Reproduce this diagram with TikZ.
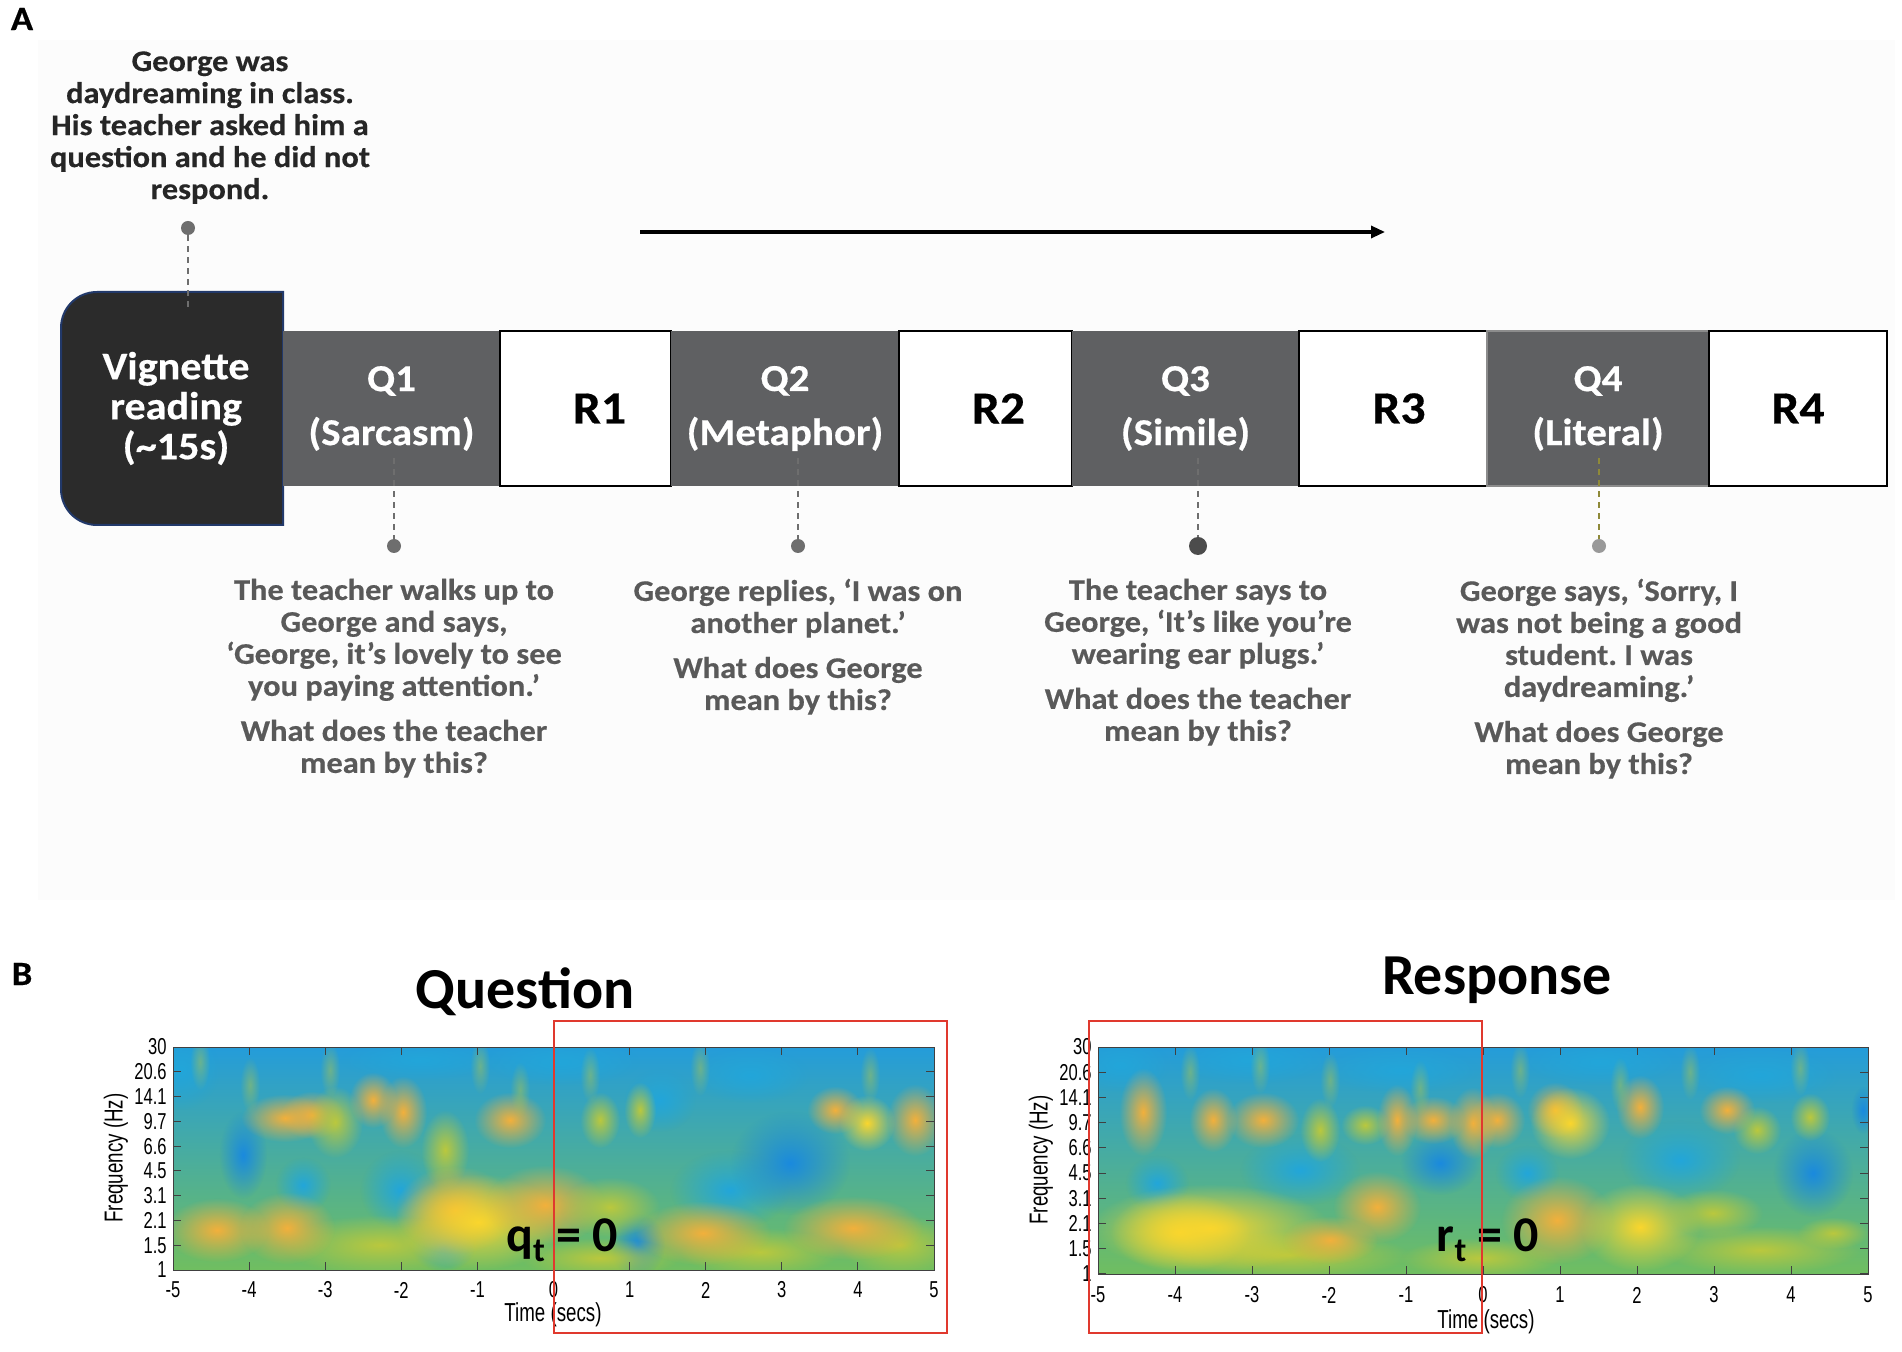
\documentclass[tikz,border=0pt]{standalone}
\usepackage{fontspec}
\setmainfont{Carlito}
\newfontfamily\afont[FakeStretch=1.08, BoldFeatures={FakeBold=0.4}]{Carlito}
\newfontfamily\axisfont[FakeStretch=0.72]{Liberation Sans}
\usetikzlibrary{positioning,arrows.meta,fadings}
\frenchspacing

\definecolor{qgray}{HTML}{5F6062}
\definecolor{vigdark}{HTML}{2B2B2B}
\definecolor{vigblue}{HTML}{22396A}
\definecolor{txtgray}{HTML}{595959}
\definecolor{dotgray}{HTML}{6E6E6E}
\definecolor{redbox}{HTML}{E0392E}
% parula-like colours for the time-frequency maps
\definecolor{ptop}{RGB}{36,156,218}
\definecolor{pmid}{RGB}{44,180,180}
\definecolor{pbot}{RGB}{112,190,96}
\definecolor{yel}{RGB}{250,214,45}
\definecolor{org}{RGB}{242,176,60}
\definecolor{ylg}{RGB}{186,200,62}
\definecolor{blu}{RGB}{26,138,222}
\definecolor{cyn}{RGB}{34,166,218}

\tikzfading[name=blobfade, inner color=transparent!0, outer color=transparent!100]

\begin{document}
\begin{tikzpicture}[
  x=0.5pt, y=-0.5pt,
  qbox/.style={rectangle, fill=qgray, minimum height=77.5pt, inner sep=0pt, outer sep=0pt, text=white, align=center, font=\afont\bfseries\fontsize{19}{27}\selectfont},
  rbox/.style={rectangle, draw=black, line width=1pt, fill=white, minimum height=77.5pt, inner sep=0pt, outer sep=0pt, font=\afont\bfseries\fontsize{23}{24}\selectfont},
  story/.style={anchor=north, align=center, text=txtgray, inner sep=0pt, font=\afont\bfseries\fontsize{15}{16}\selectfont},
  markdot/.style={circle, fill=dotgray, inner sep=0pt, minimum size=7pt},
  dashline/.style={draw=dotgray, line width=0.6pt, dash pattern=on 3pt off 2.5pt},
  panel/.style={font=\afont\bfseries\fontsize{17}{17}\selectfont, inner sep=0pt},
  title/.style={font=\bfseries\fontsize{29}{30}\selectfont, inner sep=0pt},
  ticklab/.style={font=\axisfont\fontsize{11.5}{12}\selectfont, inner sep=0pt},
  axislab/.style={font=\axisfont\fontsize{13}{13}\selectfont, inner sep=0pt},
  zerolab/.style={font=\bfseries\fontsize{25}{25}\selectfont, inner sep=0pt},
  blob/.style={path fading=blobfade}
]
\useasboundingbox (0,0) rectangle (1902,1352);
\fill[black!1] (38,40) rectangle (1895,900);

% ---------------- Panel A ----------------
\node[panel] (labA) at (22,19) {A};

% vignette box
\node[minimum width=111pt, minimum height=116.5pt, inner sep=0pt, outer sep=0pt] (vig) at (172,408.5) {};
\draw[fill=vigdark, draw=vigblue, line width=1pt]
  (vig.north east) -- ([xshift=18pt]vig.north west)
  .. controls ([xshift=8pt]vig.north west) and ([yshift=-8pt]vig.north west) .. ([yshift=-18pt]vig.north west)
  -- ([yshift=18pt]vig.south west)
  .. controls ([yshift=8pt]vig.south west) and ([xshift=8pt]vig.south west) .. ([xshift=18pt]vig.south west)
  -- (vig.south east) -- cycle;
\node[text=white, align=center, inner sep=0pt, font=\afont\bfseries\fontsize{19.5}{20}\selectfont] (vigtxt) at ([xshift=2pt]vig.center) {Vignette\\reading\\(\textasciitilde15s)};

% question / response strip
\node[qbox, minimum width=108.5pt, right=0pt of vig] (q1) {Q1\\(Sarcasm)};
\node[rbox, minimum width=85.5pt, right=0pt of q1] (r1) {\hspace*{14pt}R1};
\node[qbox, minimum width=114pt, right=0pt of r1] (q2) {Q2\\(Metaphor)};
\node[rbox, minimum width=86.5pt, right=0pt of q2] (r2) {\hspace*{13pt}R2};
\node[qbox, minimum width=113.5pt, right=0pt of r2] (q3) {Q3\\(Simile)};
\node[rbox, minimum width=94pt, right=0pt of q3] (r3) {\hspace*{6pt}R3};
\node[qbox, minimum width=111pt, draw=black!45, line width=1pt, right=0pt of r3] (q4) {Q4\\(Literal)};
\node[rbox, minimum width=89pt, right=0pt of q4] (r4) {R4};

% time arrow
\coordinate (tstart) at (640,232);
\coordinate (tend) at (1385,232);
\draw[line width=1.6pt, -{Triangle[length=7pt, width=6pt]}] (tstart) -- (tend);

% vignette text
\node[markdot] (d0) at (188,228) {};
\coordinate (d0end) at (188,307);
\draw[dashline] (d0) -- (d0end);
\node[story, text=black!85] (s0) at (210,51) {George was\\daydreaming in class.\\His teacher asked him a\\question and he did not\\respond.};

% question texts
\node[markdot] (d1) at (394,546) {};
\node[markdot] (d2) at (798,546) {};
\node[markdot, minimum size=9pt, fill=black!70] (d3) at (1198,546) {};
\node[markdot, fill=black!40] (d4) at (1599,546) {};
\draw[dashline] ([yshift=-25pt]q1.center -| d1) -- (d1);
\draw[dashline] ([yshift=-25pt]q2.center -| d2) -- (d2);
\draw[dashline] ([yshift=-25pt]q3.center -| d3) -- (d3);
\draw[dashline, draw=olive!60!gray] ([yshift=-25pt]q4.center -| d4) -- (d4);

\node[story, below=12.5pt of d1] (s1) {The teacher walks up to\\George and says,\\‘George, it’s lovely to see\\you paying attention.’\\[6.5pt]What does the teacher\\mean by this?};
\node[story, below=12.5pt of d2] (s2) {George replies, ‘I was on\\another planet.’\\[6.5pt]What does George\\mean by this?};
\node[story, below=11.5pt of d3] (s3) {The teacher says to\\George, ‘It’s like you’re\\wearing ear plugs.’\\[6.5pt]What does the teacher\\mean by this?};
\node[story, below=12.5pt of d4] (s4) {George says, ‘Sorry, I\\was not being a good\\student. I was\\daydreaming.’\\[6.5pt]What does George\\mean by this?};

% ---------------- Panel B ----------------
\node[panel] (labB) at (22,974) {B};
\node[title] (tq) at (525,992) {Question};
\node[title] (tr) at (1497,980) {Response};

% question map
\shade[top color=ptop, middle color=pmid, bottom color=pbot] (173,1047) rectangle (934,1270);
\begin{scope}
\clip (173,1047) rectangle (934,1270);
\foreach \x/\y/\rx/\ry/\c in {
  180/1070/20/20/cyn, 420/1060/40/10/cyn, 560/1062/40/12/cyn, 750/1075/30/14/cyn, 660/1100/18/16/cyn,
  243/1155/12/22/blu, 303/1185/14/14/cyn, 400/1190/20/20/cyn, 730/1190/30/20/cyn, 790/1163/30/26/blu,
  637/1245/14/16/blu, 443/1247/16/12/cyn,
  380/1245/50/15/ylg, 600/1258/40/10/ylg, 760/1252/40/12/ylg, 900/1245/30/15/ylg,
  285/1118/22/12/org, 312/1115/16/12/org, 335/1122/14/18/ylg, 373/1100/12/14/org, 403/1112/12/18/org,
  445/1150/12/20/ylg, 510/1120/18/14/org, 600/1120/10/14/ylg, 640/1110/8/14/ylg,
  217/1230/26/16/org, 287/1228/24/18/org, 455/1210/30/22/org, 478/1222/42/24/yel, 545/1205/30/20/org,
  610/1207/25/15/ylg, 703/1233/34/16/org, 853/1228/35/16/org,
  835/1110/14/12/org, 867/1123/14/14/yel, 915/1120/14/18/org}
  \fill[\c, blob] (\x,\y) ellipse ({2*\rx} and {2*\ry});
\foreach \x/\y in {200/1062, 330/1070, 480/1066, 590/1075, 700/1068, 870/1075, 250/1085, 520/1090}
  \fill[ylg, blob, fill opacity=0.45] (\x,\y) ellipse (10 and 28);
\end{scope}
\draw[black!75, line width=0.5pt] (173,1047) rectangle (934,1270);
\foreach \f [count=\i from 0] in {30,20.6,14.1,9.7,6.6,4.5,3.1,2.1,1.5,1} {
  \node[ticklab, anchor=east] (qy\i) at (167,{1047+\i*24.78}) {\f};
  \draw[black!75, line width=0.5pt] (173,{1047+\i*24.78}) -- ++(8,0);
  \draw[black!75, line width=0.5pt] (934,{1047+\i*24.78}) -- ++(-8,0);
}
\foreach \t [count=\i from 0] in {-5,-4,-3,-2,-1,0,1,2,3,4,5} {
  \node[ticklab] (qx\i) at ({173+\i*76.1},1290) {\t};
  \draw[black!75, line width=0.5pt] ({173+\i*76.1},1270) -- ++(0,-8);
  \draw[black!75, line width=0.5pt] ({173+\i*76.1},1047) -- ++(0,8);
}
\node[axislab] (qtime) at (553,1315) {Time (secs)};
\node[axislab, rotate=90] (qfreq) at (116,1158) {Frequency (Hz)};
\node[zerolab] (qzero) at (562,1240) {q\raisebox{-0.4ex}{\fontsize{17}{17}\selectfont t} = 0};
\draw[redbox, line width=1pt] (554,1021) rectangle (947,1333);

% response map
\shade[top color=ptop, middle color=pmid, bottom color=pbot] (1098,1047) rectangle (1868,1274);
\begin{scope}
\clip (1098,1047) rectangle (1868,1274);
\foreach \x/\y/\rx/\ry/\c in {
  1120/1065/25/14/cyn, 1250/1060/40/12/cyn, 1400/1070/40/12/cyn, 1600/1062/40/12/cyn, 1760/1075/40/14/cyn,
  1157/1183/16/14/cyn, 1300/1170/30/18/cyn, 1440/1163/20/16/blu, 1527/1173/16/14/cyn, 1813/1173/20/22/blu,
  1680/1160/30/20/cyn, 1863/1110/6/12/blu,
  1290/1255/60/12/ylg, 1480/1258/40/10/ylg, 1760/1250/50/12/ylg,
  1143/1112/12/22/org, 1213/1120/12/16/org, 1263/1120/18/14/org, 1320/1130/10/16/ylg, 1365/1125/12/10/ylg,
  1397/1120/10/18/org, 1433/1120/16/12/org, 1473/1123/12/18/org, 1497/1120/14/14/org,
  1555/1110/14/14/org, 1570/1123/20/18/yel, 1640/1107/12/16/org, 1727/1110/14/12/org, 1757/1130/12/12/ylg, 1810/1117/10/12/ylg,
  1180/1232/35/20/yel, 1210/1228/60/22/yel, 1377/1207/22/18/org, 1330/1240/24/12/org,
  1557/1220/28/22/org, 1640/1227/30/22/yel, 1713/1213/25/12/ylg, 1833/1233/18/8/ylg}
  \fill[\c, blob] (\x,\y) ellipse ({2*\rx} and {2*\ry});
\foreach \x/\y in {1190/1072, 1260/1066, 1330/1080, 1520/1070, 1690/1072, 1800/1068, 1420/1088, 1620/1085}
  \fill[ylg, blob, fill opacity=0.45] (\x,\y) ellipse (10 and 28);
\end{scope}
\draw[black!75, line width=0.5pt] (1098,1047) rectangle (1868,1274);
\foreach \f [count=\i from 0] in {30,20.6,14.1,9.7,6.6,4.5,3.1,2.1,1.5,1} {
  \node[ticklab, anchor=east] (ry\i) at (1092,{1047+\i*25.2}) {\f};
  \draw[black!75, line width=0.5pt] (1098,{1047+\i*25.2}) -- ++(8,0);
  \draw[black!75, line width=0.5pt] (1868,{1047+\i*25.2}) -- ++(-8,0);
}
\foreach \t [count=\i from 0] in {-5,-4,-3,-2,-1,0,1,2,3,4,5} {
  \node[ticklab] (rx\i) at ({1098+\i*77},1295) {\t};
  \draw[black!75, line width=0.5pt] ({1098+\i*77},1274) -- ++(0,-8);
  \draw[black!75, line width=0.5pt] ({1098+\i*77},1047) -- ++(0,8);
}
\node[axislab] (rtime) at (1486,1322) {Time (secs)};
\node[axislab, rotate=90] (rfreq) at (1041,1160) {Frequency (Hz)};
\node[zerolab] (rzero) at (1488,1240) {r\raisebox{-0.4ex}{\fontsize{17}{17}\selectfont t} = 0};
\draw[redbox, line width=1pt] (1089,1021) rectangle (1482,1333);

\end{tikzpicture}
\end{document}
